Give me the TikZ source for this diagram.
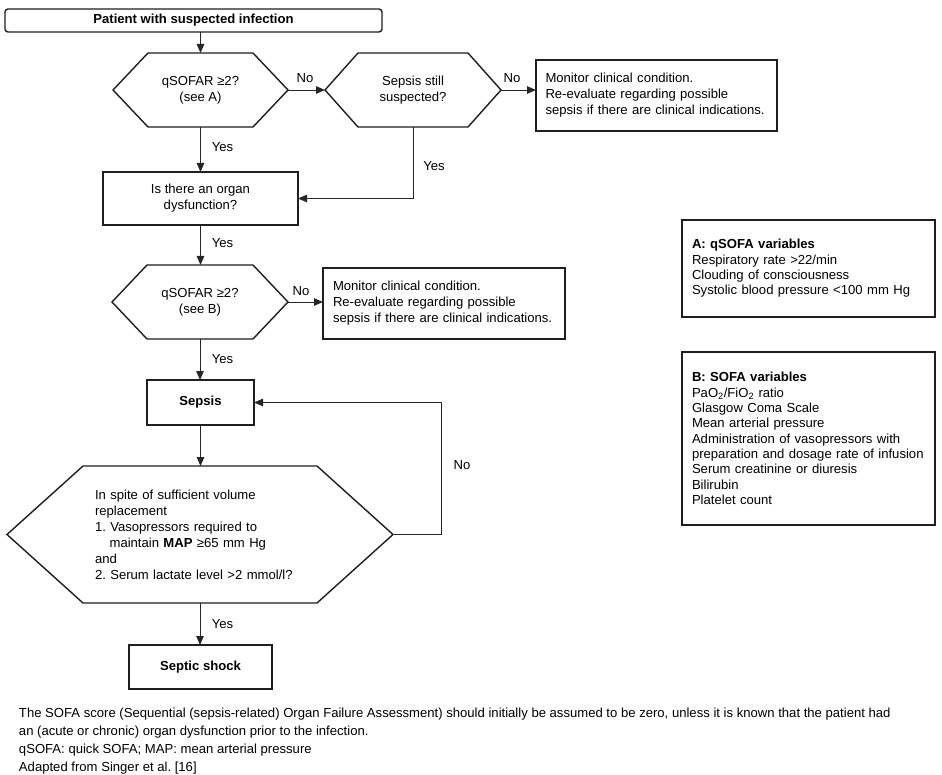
\documentclass[tikz,border=0pt]{standalone}
\usepackage{fontspec}
\setmainfont{Liberation Sans}
\usetikzlibrary{arrows.meta}
\newcommand\hexpath[2]{\draw[boxline] (#1.west) -- ([xshift=#2]#1.north west) -- ([xshift=-#2]#1.north east) -- (#1.east) -- ([xshift=-#2]#1.south east) -- ([xshift=#2]#1.south west) -- cycle;}
\tikzset{
  txt/.style={font=\fontsize{13.1}{16}\selectfont},
  every node/.style={txt, inner sep=0pt, outer sep=0pt},
  boxline/.style={line width=1.4pt, draw=black!88},
  box/.style={rectangle, boxline},
  hexn/.style={rectangle, draw=none, align=center},
  bold/.style={font=\fontsize{13.1}{16}\selectfont\bfseries},
  conn/.style={line width=0.9pt, draw=black!85, -{Triangle[length=9pt,width=7.5pt]}},
  lbl/.style={txt},
  info/.style={box, align=left, text width=233pt, font=\fontsize{13.1}{15.3}\selectfont},
}
\begin{document}
\frenchspacing
\begin{tikzpicture}[x=1pt,y=-1pt]
\useasboundingbox (0,0) rectangle (942,775);
\fill[white] (0,0) rectangle (942,775);

% nodes
\node[box, bold, rounded corners=3pt, minimum width=377pt, minimum height=23pt] (start) at (193.5,20.5) {Patient with suspected infection};

\node[hexn, minimum width=175pt, minimum height=74pt] (h1) at (200.5,90) {qSOFAR ≥2?\\(see A)};
\hexpath{h1}{35pt}
\node[hexn, minimum width=176pt, minimum height=74pt] (h2) at (413,90) {Sepsis still\\suspected?};
\hexpath{h2}{33pt}
\node[box, align=left, text width=222pt, minimum width=241pt, minimum height=71pt] (m1) at (656.5,95.5) {Monitor clinical condition.\\Re-evaluate regarding possible\\sepsis if there are clinical indications.};

\node[box, align=center, minimum width=195pt, minimum height=53pt] (b2) at (200.5,198.5) {Is there an organ\\dysfunction?};

\node[hexn, minimum width=176pt, minimum height=74pt] (h3) at (200,302) {qSOFAR ≥2?\\(see B)};
\hexpath{h3}{35pt}
\node[box, align=left, text width=222pt, minimum width=242pt, minimum height=71pt] (m2) at (444,303.5) {Monitor clinical condition.\\Re-evaluate regarding possible\\sepsis if there are clinical indications.};

\node[box, bold, minimum width=107pt, minimum height=45pt] (sep) at (200.5,402.5) {Sepsis};

\node[hexn, align=left, text width=210pt, minimum width=386pt, minimum height=137pt] (bh) at (200,534.5) {In spite of sufficient volume\\replacement\\1. Vasopressors required to\\\hspace*{14.6pt}maintain \textbf{MAP} ≥65 mm Hg\\and\\2. Serum lactate level >2 mmol/l?};
\hexpath{bh}{76pt}

\node[box, bold, minimum width=143pt, minimum height=44pt] (sh) at (200.5,667) {Septic shock};

\node[info, minimum width=253pt, minimum height=97pt] (ba) at (808.5,268.5) {\textbf{A: qSOFA variables}\\Respiratory rate >22/min\\Clouding of consciousness\\Systolic blood pressure <100 mm Hg};

\node[info, minimum width=253pt, minimum height=173pt] (bb) at (808.5,438.5) {\textbf{B: SOFA variables}\\PaO\textsubscript{2}/FiO\textsubscript{2} ratio\\Glasgow Coma Scale\\Mean arterial pressure\\Administration of vasopressors with\\preparation and dosage rate of infusion\\Serum creatinine or diuresis\\Bilirubin\\Platelet count};

% labels
\node[lbl] (no1) at (305,78) {No};
\node[lbl] (no2) at (512,78) {No};
\node[lbl] (yes1) at (222.5,147) {Yes};
\node[lbl] (yes2) at (434,166) {Yes};
\node[lbl] (yes3) at (222.5,243) {Yes};
\node[lbl] (no3) at (301,291) {No};
\node[lbl] (yes4) at (222.5,359) {Yes};
\node[lbl] (no4) at (462,465) {No};
\node[lbl] (yes5) at (222.5,624) {Yes};

% connectors
\coordinate (lp) at (441,534.5);
\draw[conn] (start.south -| h1.north) -- (h1.north);
\draw[conn] (h1.east) -- (h2.west);
\draw[conn] (h2.east) -- (h2.east -| m1.west);
\draw[conn] (h1.south) -- (b2.north);
\draw[conn] (h2.south) |- (b2.east);
\draw[conn] (b2.south) -- (b2.south |- h3.north);
\draw[conn] (h3.east) -- (h3.east -| m2.west);
\draw[conn] (h3.south) -- (h3.south |- sep.north);
\draw[conn] (sep.south) -- (sep.south |- bh.north);
\draw[conn] (bh.east) -- (lp) |- (sep.east);
\draw[conn] (bh.south) -- (bh.south |- sh.north);

% footnote
\node[anchor=north west, align=left, font=\fontsize{13.1}{18}\selectfont] (foot) at (19,708) {The SOFA score (Sequential (sepsis-related) Organ Failure Assessment) should initially be assumed to be zero, unless it is known that the patient had\\an (acute or chronic) organ dysfunction prior to the infection.\\qSOFA: quick SOFA; MAP: mean arterial pressure\\Adapted from Singer et al. [16]};
\end{tikzpicture}
\end{document}
